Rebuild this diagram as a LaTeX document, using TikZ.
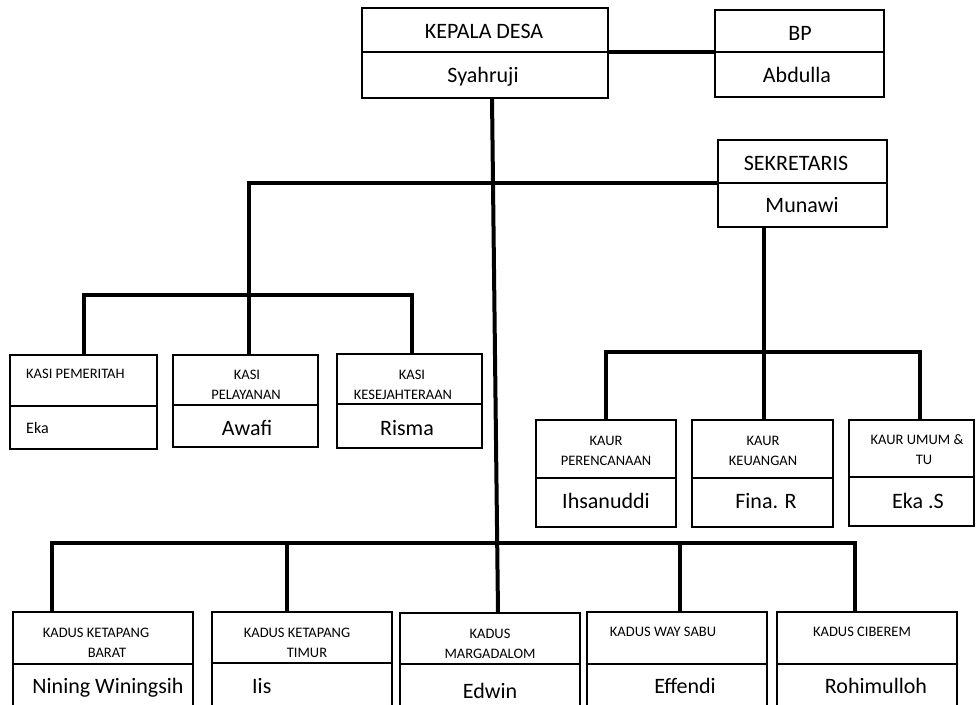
\documentclass[tikz,border=0pt]{standalone}
\usepackage{fontspec}
\setmainfont{Carlito}
\usetikzlibrary{calc}
\tikzset{
  cell/.style={draw, rectangle, line width=2.4pt, inner sep=0pt, outer sep=0pt},
  conn/.style={line width=4pt},
  big/.style={anchor=base, inner sep=0pt, font=\fontsize{22}{26}\selectfont},
  small/.style={anchor=base, inner sep=0pt, font=\fontsize{14.5}{17}\selectfont},
}
\begin{document}
\begin{tikzpicture}[x=1pt,y=-1pt]
\useasboundingbox (0,0) rectangle (976,704);
\clip (0,0) rectangle (976,704);
\fill[white] (0,0) rectangle (976,704);
% ---- top row
\node[cell, minimum width=246pt, minimum height=44pt] (kdT) at (485,30) {};
\node[cell, minimum width=246pt, minimum height=46pt] (kdB) at (485,75) {};
\node[big] (kdTt) at (484,38) {KEPALA DESA};
\node[big] (kdBt) at (483,82) {Syahruji};
\node[cell, minimum width=169pt, minimum height=42pt] (bpT) at (799.5,31) {};
\node[cell, minimum width=169pt, minimum height=45pt] (bpB) at (799.5,74.5) {};
\node[big] (bpTt) at (800,40) {BP};
\node[big] (bpBt) at (797,82) {Abdulla};
\node[cell, minimum width=169pt, minimum height=43pt] (sekT) at (802.5,161.5) {};
\node[cell, minimum width=169pt, minimum height=44pt] (sekB) at (802.5,205) {};
\node[big] (sekTt) at (796,170) {SEKRETARIS};
\node[big] (sekBt) at (802,212) {Munawi};
% ---- KASI row
\node[cell, minimum width=147pt, minimum height=51pt] (kpT) at (83.5,380.5) {};
\node[cell, minimum width=147pt, minimum height=43pt] (kpB) at (83.5,427.5) {};
\node[small, anchor=base west] (kpTt) at (26,378) {KASI PEMERITAH};
\node[big, anchor=base west, font=\fontsize{16}{19}\selectfont] (kpBt) at (26,433) {Eka};
\node[cell, minimum width=145pt, minimum height=50pt] (plT) at (245.5,380) {};
\node[cell, minimum width=145pt, minimum height=42pt] (plB) at (245.5,426) {};
\node[small] (plTt1) at (247,379) {KASI};
\node[small] (plTt2) at (246,399) {PELAYANAN};
\node[big] (plBt) at (247,435) {Awafi};
\node[cell, minimum width=145pt, minimum height=50pt] (ksT) at (409.5,379) {};
\node[cell, minimum width=145pt, minimum height=44pt] (ksB) at (409.5,426) {};
\node[small] (ksTt1) at (412,379) {KASI};
\node[small] (ksTt2) at (403,399) {KESEJAHTERAAN};
\node[big] (ksBt) at (407,435) {Risma};
% ---- KAUR row
\node[cell, minimum width=140pt, minimum height=58pt] (prT) at (606,449) {};
\node[cell, minimum width=140pt, minimum height=49pt] (prB) at (606,502.5) {};
\node[small] (prTt1) at (606,445) {KAUR};
\node[small] (prTt2) at (606,465) {PERENCANAAN};
\node[big] (prBt) at (606,508) {Ihsanuddi};
\node[cell, minimum width=141pt, minimum height=58pt] (keT) at (762.5,449) {};
\node[cell, minimum width=141pt, minimum height=49pt] (keB) at (762.5,502.5) {};
\node[small] (keTt1) at (763,445) {KAUR};
\node[small] (keTt2) at (763,465) {KEUANGAN};
\node[big] (keBt) at (766,508) {Fina. R};
\node[cell, minimum width=125pt, minimum height=57pt] (umT) at (911.5,448.5) {};
\node[cell, minimum width=125pt, minimum height=49pt] (umB) at (911.5,501.5) {};
\node[small] (umTt1) at (917,444) {KAUR UMUM \&};
\node[small] (umTt2) at (924,464) {TU};
\node[big] (umBt) at (918,508) {Eka .S};
% ---- KADUS row
\node[cell, minimum width=180pt, minimum height=52pt] (barT) at (103,638) {};
\node[cell, minimum width=180pt, minimum height=56pt] (barB) at (103,692) {};
\node[small] (barTt1) at (96,637) {KADUS KETAPANG};
\node[small] (barTt2) at (107,657) {BARAT};
\node[big] (barBt) at (108,693) {Nining Winingsih};
\node[cell, minimum width=180pt, minimum height=51pt] (timT) at (302,637.5) {};
\node[cell, minimum width=180pt, minimum height=56pt] (timB) at (302,691) {};
\node[small] (timTt1) at (297,637) {KADUS KETAPANG};
\node[small] (timTt2) at (307,657) {TIMUR};
\node[big, anchor=base west] (timBt) at (252,693) {Iis};
\node[cell, minimum width=180pt, minimum height=51pt] (marT) at (490,638.5) {};
\node[cell, minimum width=180pt, minimum height=56pt] (marB) at (490,692) {};
\node[small] (marTt1) at (490,638) {KADUS};
\node[small] (marTt2) at (490,658) {MARGADALOM};
\node[big] (marBt) at (490,698) {Edwin};
\node[cell, minimum width=180pt, minimum height=52pt] (wayT) at (677,638) {};
\node[cell, minimum width=180pt, minimum height=56pt] (wayB) at (677,692) {};
\node[small] (wayTt) at (663,636) {KADUS WAY SABU};
\node[big] (wayBt) at (685,693) {Effendi};
\node[cell, minimum width=180pt, minimum height=52pt] (cibT) at (867,638) {};
\node[cell, minimum width=180pt, minimum height=56pt] (cibB) at (867,692) {};
\node[small] (cibTt) at (862,636) {KADUS CIBEREM};
\node[big] (cibBt) at (876,693) {Rohimulloh};
% ---- connectors
\draw[conn] (kdT.south east) -- (bpT.south west);
\draw[conn] ([xshift=7pt]kdB.south) -- ([xshift=8pt]marT.north);
\coordinate (kasiJ) at (248.5,295);
\draw[conn] (sekT.south west) -| (kasiJ);
\draw[conn] (kpT.north) |- (kasiJ) -| ([xshift=2.5pt]ksT.north);
\draw[conn] (kasiJ) -- (kasiJ |- plT.north);
\coordinate (kaurJ) at (764,352);
\draw[conn] (sekB.south -| kaurJ) -- (kaurJ);
\draw[conn] (prT.north) |- (kaurJ) -| ([xshift=8.5pt]umT.north);
\draw[conn] (kaurJ) -- (kaurJ |- keT.north);
\coordinate (kadL) at (52,543);
\coordinate (kadR) at (855,543);
\coordinate (kad2) at (287,543);
\coordinate (kad4) at (680,543);
\draw[conn] (barT.north -| kadL) |- (kadR) -- (kadR |- cibT.north);
\draw[conn] (kad2) -- (kad2 |- timT.north);
\draw[conn] (kad4) -- (kad4 |- wayT.north);
\end{tikzpicture}
\end{document}
